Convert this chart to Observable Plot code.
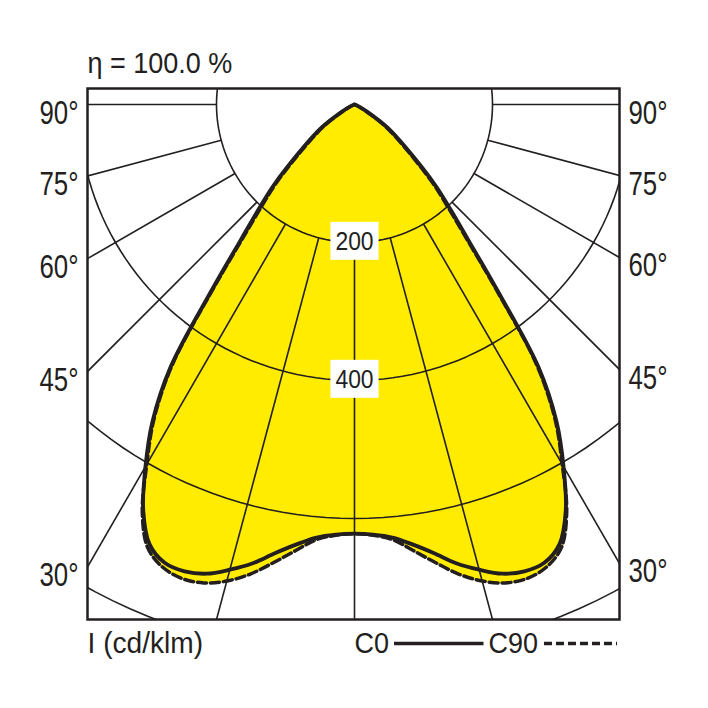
<!DOCTYPE html>
<html><head><meta charset="utf-8">
<script src="https://cdn.jsdelivr.net/npm/d3@7"></script>
<script src="https://cdn.jsdelivr.net/npm/@observablehq/plot@0.6"></script>
<style>
body{margin:0;background:#fff;}
#chart svg{display:block;}
</style></head><body><div id="chart"></div>
<script>
// ---- data (angles in degrees from nadir, intensities in cd/klm) ----
const gammas    = [0, 2.5, 5, 7.5, 10, 12.5, 15, 17.5, 20, 22.5, 25, 27.5, 30, 32.5, 35, 37.5, 40, 42.5, 45, 50, 55, 60, 65, 70, 80, 90];
const c0Values  = [622, 624, 630, 643, 660, 681, 698, 713, 720, 719, 703, 663, 606, 545, 465, 342, 257, 205, 166, 97, 58, 22, 8, 2, 0, 0];
const c90Values = [622, 625, 633, 652, 674, 697, 715, 727, 731, 726, 709, 666, 602, 541, 460, 336, 250, 198, 159, 91, 53, 19, 6, 1, 0, 0];
const ringValues = [200, 400, 600, 800];
const ringLabels = [200, 400];
const spokeAngles = [0, 15, 30, 45, 60, 75, 90];
const angleLabels = [90, 75, 60, 45, 30];
const titleText = "η = 100.0 %";
const unitText = "I (cd/klm)";
const seriesNames = ["C0", "C90"];

// ---- layout ----
const W = 708, H = 708;
const mL = 87, mR = 89, mT = 88, mB = 89;
const cxPx = 354, cyPx = 104, pxPerUnit = 0.69;
const xDomain = [-(cxPx - mL) / pxPerUnit, (W - mR - cxPx) / pxPerUnit];
const yDomain = [-(H - mB - cyPx) / pxPerUnit, (cyPx - mT) / pxPerUnit];
const ink = "#231f20";
const yellow = "#ffec00";
const font = "'Liberation Sans', Arial, sans-serif";

const rad = d => d * Math.PI / 180;
const polar = (g, r, side) => ({x: side * r * Math.sin(rad(g)), y: -r * Math.cos(rad(g))});

function curvePoints(vals) {
  const left = gammas.map((g, i) => polar(g, vals[i], -1)).reverse();
  const right = gammas.slice(1).map((g, i) => polar(g, vals[i + 1], 1));
  return left.concat(right);
}
const c0Pts = curvePoints(c0Values);
const c90Pts = curvePoints(c90Values);

const circleData = ringValues.flatMap(r => d3.range(0, 361, 2).map(t => ({r, ...polar(t, r, 1)})));

const spokes = spokeAngles.flatMap(a => (a === 0 ? [1] : [-1, 1]).map(s => {
  const p1 = polar(a, ringValues[0], s), p2 = polar(a, 2000, s);
  return {x1: p1.x, y1: p1.y, x2: p2.x, y2: p2.y};
}));

const sideLabels = angleLabels.flatMap(a => [-1, 1].map(s => {
  const xe = s < 0 ? xDomain[0] : xDomain[1];
  const y = a === 90 ? 0 : -Math.abs(xe) / Math.tan(rad(a));
  return {a, s, x: xe, y};
}));

const plot = Plot.plot({
  width: W, height: H,
  marginLeft: mL, marginRight: mR, marginTop: mT, marginBottom: mB,
  x: {domain: xDomain, axis: null},
  y: {domain: yDomain, axis: null},
  style: {fontFamily: font, color: ink, background: "#fff", overflow: "visible"},
  marks: [
    Plot.line(c0Pts, {x: "x", y: "y", fill: yellow, stroke: "none", curve: "catmull-rom"}),
    Plot.line(c90Pts, {x: "x", y: "y", fill: yellow, stroke: "none", curve: "catmull-rom"}),
    Plot.line(circleData, {x: "x", y: "y", z: "r", stroke: ink, strokeWidth: 1.6, clip: true}),
    Plot.link(spokes, {x1: "x1", y1: "y1", x2: "x2", y2: "y2", stroke: ink, strokeWidth: 1.6, clip: true}),
    Plot.text(ringLabels, {x: 0, y: d => -d, text: d => String(d), fontSize: 26, fill: ink, dy: -1}),
    Plot.line(c90Pts, {x: "x", y: "y", stroke: ink, strokeWidth: 3.5, strokeDasharray: "9,4", curve: "catmull-rom"}),
    Plot.line(c0Pts, {x: "x", y: "y", stroke: ink, strokeWidth: 3.8, curve: "catmull-rom"}),
    Plot.frame({stroke: ink, strokeWidth: 2.5}),
    Plot.text(sideLabels.filter(d => d.s < 0), {x: "x", y: "y", text: d => d.a + "°", textAnchor: "end", lineAnchor: "bottom", dx: -9, dy: 19, fontSize: 33.5, fill: ink}),
    Plot.text(sideLabels.filter(d => d.s > 0), {x: "x", y: "y", text: d => d.a + "°", textAnchor: "start", lineAnchor: "bottom", dx: 9, dy: 19, fontSize: 33.5, fill: ink}),
    Plot.text([titleText], {frameAnchor: "top-left", textAnchor: "start", lineAnchor: "bottom", dy: -16, fontSize: 30, fill: ink}),
    Plot.text([unitText], {frameAnchor: "bottom-left", textAnchor: "start", lineAnchor: "bottom", dy: 33, fontSize: 29, fill: ink}),
    Plot.text([seriesNames[0]], {x: 0, frameAnchor: "bottom", textAnchor: "start", lineAnchor: "bottom", dy: 33, fontSize: 29, fill: ink}),
    Plot.text([seriesNames[1]], {x: 0, frameAnchor: "bottom", textAnchor: "start", lineAnchor: "bottom", dx: 134, dy: 33, fontSize: 29, fill: ink})
  ]
});
document.getElementById("chart").appendChild(plot);

// ---- post-processing: condensed text, white label boxes, legend samples ----
const svgEl = plot;
const svg = d3.select(svgEl);
const origin = svgEl.getBoundingClientRect();
const condense = t => t.endsWith("°") ? 0.77 : ringLabels.map(String).includes(t) ? 0.88 :
  t === titleText ? 0.9 : t === unitText ? 0.97 : 0.93;
svg.selectAll("text").each(function() {
  try {
    const t = this.textContent;
    const len = this.getComputedTextLength();
    if (len > 0) {
      this.setAttribute("textLength", (len * condense(t)).toFixed(2));
      this.setAttribute("lengthAdjust", "spacingAndGlyphs");
    }
  } catch (e) {}
});
svg.selectAll("text").each(function() {
  const t = this.textContent;
  if (ringLabels.map(String).includes(t)) {
    const b = this.getBoundingClientRect();
    svg.insert("rect", () => this.parentNode)
      .attr("x", b.left - origin.left - 5).attr("y", b.top - origin.top - 4)
      .attr("width", b.width + 10).attr("height", b.height + 8)
      .attr("fill", "#fff");
  }
});
const texts = svg.selectAll("text").nodes();
const tC0 = texts.find(n => n.textContent === seriesNames[0]);
const tC90 = texts.find(n => n.textContent === seriesNames[1]);
if (tC0 && tC90) {
  const b0 = tC0.getBoundingClientRect(), b1 = tC90.getBoundingClientRect();
  const ly = b0.top - origin.top + b0.height * 0.5 + 1;
  svg.append("line").attr("x1", b0.right - origin.left + 5).attr("x2", b1.left - origin.left - 5)
    .attr("y1", ly).attr("y2", ly).attr("stroke", ink).attr("stroke-width", 3.5);
  svg.append("line").attr("x1", b1.right - origin.left + 6).attr("x2", W - mR - 2)
    .attr("y1", ly).attr("y2", ly).attr("stroke", ink).attr("stroke-width", 3.5)
    .attr("stroke-dasharray", "8,4");
}
</script></body></html>
